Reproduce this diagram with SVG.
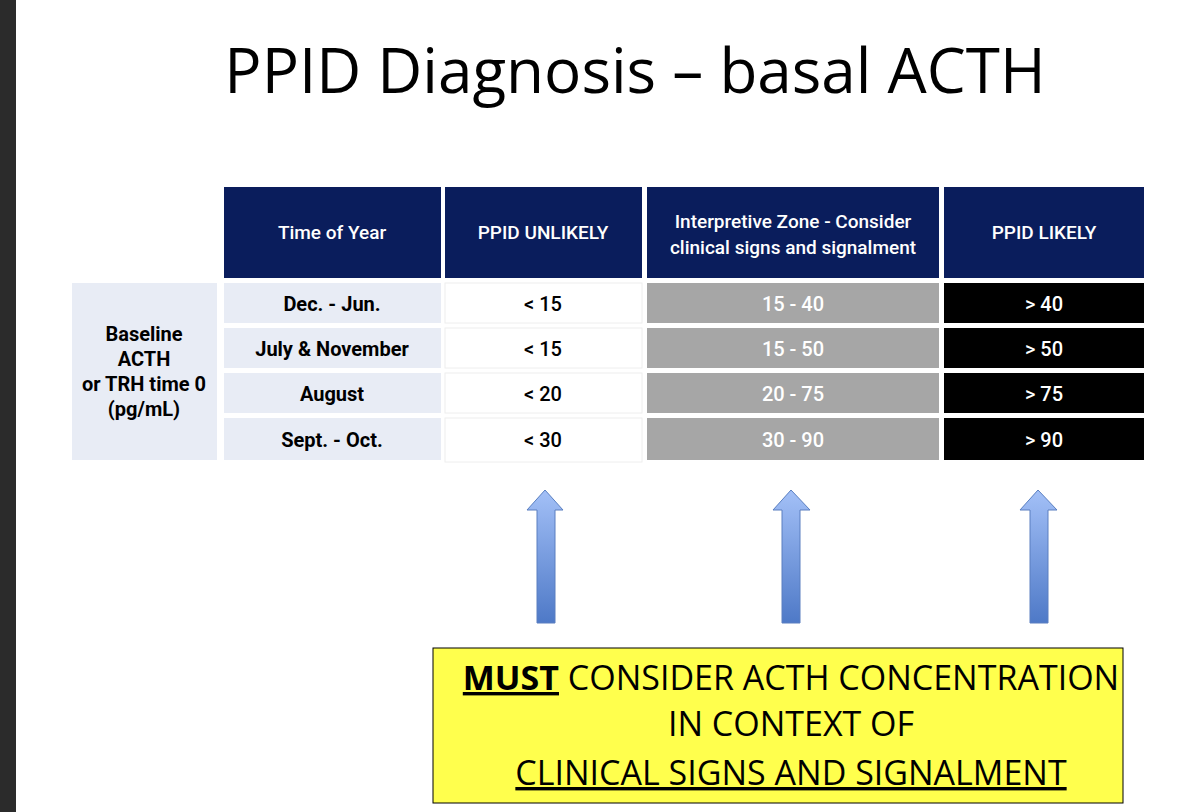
<svg xmlns="http://www.w3.org/2000/svg" width="1180" height="812" viewBox="0 0 1180 812">
<style>
.h{fill:#0a1d5c}.ht{fill:#fff;font-family:Roboto,"Liberation Sans",sans-serif;font-size:19px;font-weight:500;text-anchor:middle}
.lb{fill:#e8ecf5}.lt{fill:#000;font-family:Roboto,"Liberation Sans",sans-serif;font-size:20px;font-weight:bold;text-anchor:middle}
.w{fill:#fff;stroke:#eee;stroke-width:1}.g{fill:#a6a6a6}.k{fill:#000}
.v{font-family:Roboto,"Liberation Sans",sans-serif;font-size:20px;font-weight:500;text-anchor:middle}
.arr{fill:url(#ag);stroke:#5a7fc0;stroke-width:1}
.y{font-family:"Open Sans","Liberation Sans",sans-serif;font-size:34px;text-anchor:middle}
</style>
<defs><linearGradient id="ag" x1="0" y1="0" x2="0" y2="1"><stop offset="0" stop-color="#a3c0f7"/><stop offset="1" stop-color="#4e79c7"/></linearGradient></defs>
<rect width="1180" height="812" fill="#fff"/>
<rect x="0" y="0" width="16" height="812" fill="#2b2b2b"/>
<text x="635" y="93" font-family="Open Sans,Liberation Sans,sans-serif" font-size="62" text-anchor="middle">PPID Diagnosis – basal ACTH</text>
<g id="header">
<rect class="h" x="224" y="187" width="217" height="91"/><text class="ht" x="332" y="239">Time of Year</text>
<rect class="h" x="445" y="187" width="197" height="91"/><text class="ht" x="543" y="239">PPID UNLIKELY</text>
<rect class="h" x="647" y="187" width="292" height="91"/><text class="ht" x="793" y="228">Interpretive Zone - Consider</text><text class="ht" x="793" y="254">clinical signs and signalment</text>
<rect class="h" x="944" y="187" width="200" height="91"/><text class="ht" x="1044" y="239">PPID LIKELY</text>
</g>
<g id="label">
<rect class="lb" x="72" y="283" width="145" height="177"/>
<text class="lt" x="144" y="341">Baseline</text><text class="lt" x="144" y="366">ACTH</text><text class="lt" x="144" y="391">or TRH time 0</text><text class="lt" x="144" y="416">(pg/mL)</text>
</g>
<g id="rows">
<rect class="lb" x="224" y="283" width="217" height="40"/><text class="lt" x="332" y="311">Dec. - Jun.</text>
<rect class="w" x="445" y="283" width="197" height="40"/><text class="v" x="543" y="311">&lt; 15</text>
<rect class="g" x="647" y="283" width="292" height="40"/><text class="v" x="793" y="311" fill="#fff">15 - 40</text>
<rect class="k" x="944" y="283" width="200" height="40"/><text class="v" x="1044" y="311" fill="#fff">&gt; 40</text>
<rect class="lb" x="224" y="328" width="217" height="40"/><text class="lt" x="332" y="356">July &amp; November</text>
<rect class="w" x="445" y="328" width="197" height="40"/><text class="v" x="543" y="356">&lt; 15</text>
<rect class="g" x="647" y="328" width="292" height="40"/><text class="v" x="793" y="356" fill="#fff">15 - 50</text>
<rect class="k" x="944" y="328" width="200" height="40"/><text class="v" x="1044" y="356" fill="#fff">&gt; 50</text>
<rect class="lb" x="224" y="373" width="217" height="40"/><text class="lt" x="332" y="401">August</text>
<rect class="w" x="445" y="373" width="197" height="40"/><text class="v" x="543" y="401">&lt; 20</text>
<rect class="g" x="647" y="373" width="292" height="40"/><text class="v" x="793" y="401" fill="#fff">20 - 75</text>
<rect class="k" x="944" y="373" width="200" height="40"/><text class="v" x="1044" y="401" fill="#fff">&gt; 75</text>
<rect class="lb" x="224" y="418" width="217" height="42"/><text class="lt" x="332" y="447">Sept. - Oct.</text>
<rect class="w" x="445" y="418" width="197" height="44"/><text class="v" x="543" y="447">&lt; 30</text>
<rect class="g" x="647" y="418" width="292" height="42"/><text class="v" x="793" y="447" fill="#fff">30 - 90</text>
<rect class="k" x="944" y="418" width="200" height="42"/><text class="v" x="1044" y="447" fill="#fff">&gt; 90</text>
</g>
<g id="connectors">
<path class="arr" d="M537,623 V510 H527 L545,490 L563,510 H555 V623 Z"/>
<path class="arr" d="M782,623 V510 H773 L791,490 L810,510 H800 V623 Z"/>
<path class="arr" d="M1030,623 V510 H1020 L1038,490 L1057,510 H1048 V623 Z"/>
</g>
<g id="note">
<rect x="433" y="648" width="690" height="155" fill="#ffff4d" stroke="#000" stroke-width="1"/>
<text class="y" x="791" y="690"><tspan font-weight="bold" text-decoration="underline">MUST</tspan> CONSIDER ACTH CONCENTRATION</text>
<text class="y" x="791" y="736">IN CONTEXT OF</text>
<text class="y" x="791" y="785" text-decoration="underline">CLINICAL SIGNS AND SIGNALMENT</text>
</g>
</svg>
